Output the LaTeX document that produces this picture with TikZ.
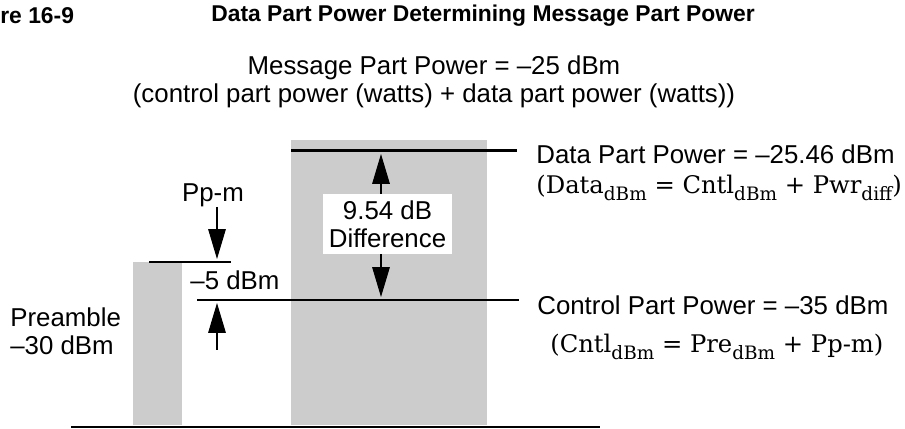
\documentclass[tikz,border=0pt]{standalone}
\usepackage{fontspec}
\setmainfont{Liberation Sans}
\newfontfamily\formulafont{DejaVu Serif}
\usetikzlibrary{positioning, arrows.meta, calc}
\definecolor{barGray}{HTML}{CCCCCC}
\newcommand{\lowsub}[1]{\raisebox{-0.5ex}{\fontsize{10.5}{11}\selectfont #1}}

\begin{document}
\begin{tikzpicture}[
  bar/.style={fill=barGray},
  level/.style={line width=1.7pt},
  dimarr/.style={-{Triangle[length=17pt, width=10pt]}, line width=0.6pt},
  lbl/.style={font=\fontsize{14.7}{15.9}\selectfont, inner sep=0pt, align=left},
  formula/.style={font=\formulafont\fontsize{13.8}{15}\selectfont, inner sep=0pt, anchor=west},
  heading/.style={font=\fontsize{13}{15}\selectfont\bfseries, inner sep=0pt, anchor=west}
]
\useasboundingbox (0,0) rectangle (18.1,8.58);

% heading
\node[heading] (fig) at (0,8.26) {re 16-9};
\node[heading] (title) at (4.22,8.26) {Data Part Power Determining Message Part Power};
\node[lbl, align=center] (msg) at (8.68,6.94) {Message Part Power = –25 dBm\\(control part power (watts) + data part power (watts))};

% bars
\fill[bar] (2.66,0.08) rectangle (3.64,3.34);
\fill[bar] (5.82,0.08) rectangle (9.74,5.78);

% levels
\draw[level] (1.42,0.04) -- (12.0,0.04);
\draw[level] (2.98,3.34) -- (4.62,3.34);
\draw[level] (3.94,2.58) -- (10.38,2.58);
\draw[level] (5.82,5.56) -- (10.34,5.56);

% preamble step
\node[lbl, anchor=west] (pre) at (0.2,1.95) {Preamble\\–30 dBm};
\node[lbl] (ppm) at (4.26,4.68) {Pp-m};
\node[lbl] (step) at (4.70,2.98) {–5 dBm};
\coordinate (preTip) at (4.34,3.40);
\coordinate (ctlTip) at (4.34,2.52);
\coordinate (ctlTail) at (4.34,1.58);
\draw[dimarr] (ppm.south -| preTip) -- (preTip);
\draw[dimarr] (ctlTail) -- (ctlTip);

% data difference
\node[lbl, align=center, fill=white, minimum width=2.58cm, minimum height=1.2cm] (diff) at (7.75,4.10) {9.54 dB\\Difference};
\coordinate (dataTip) at (7.62,5.50);
\coordinate (cntlTip) at (7.62,2.64);
\draw[dimarr] (diff.north -| dataTip) -- (dataTip);
\draw[dimarr] (diff.south -| cntlTip) -- (cntlTip);

% right labels
\node[lbl, anchor=west] (dataLbl) at (10.72,5.50) {Data Part Power = –25.46 dBm};
\node[formula] (dataEq) at (10.72,4.82) {(Data\lowsub{dBm} = Cntl\lowsub{dBm} + Pwr\lowsub{diff})};
\node[lbl, anchor=west] (cntlLbl) at (10.74,2.48) {Control Part Power = –35 dBm};
\node[formula] (cntlEq) at (11.0,1.64) {(Cntl\lowsub{dBm} = Pre\lowsub{dBm} + Pp-m)};
\end{tikzpicture}
\end{document}
